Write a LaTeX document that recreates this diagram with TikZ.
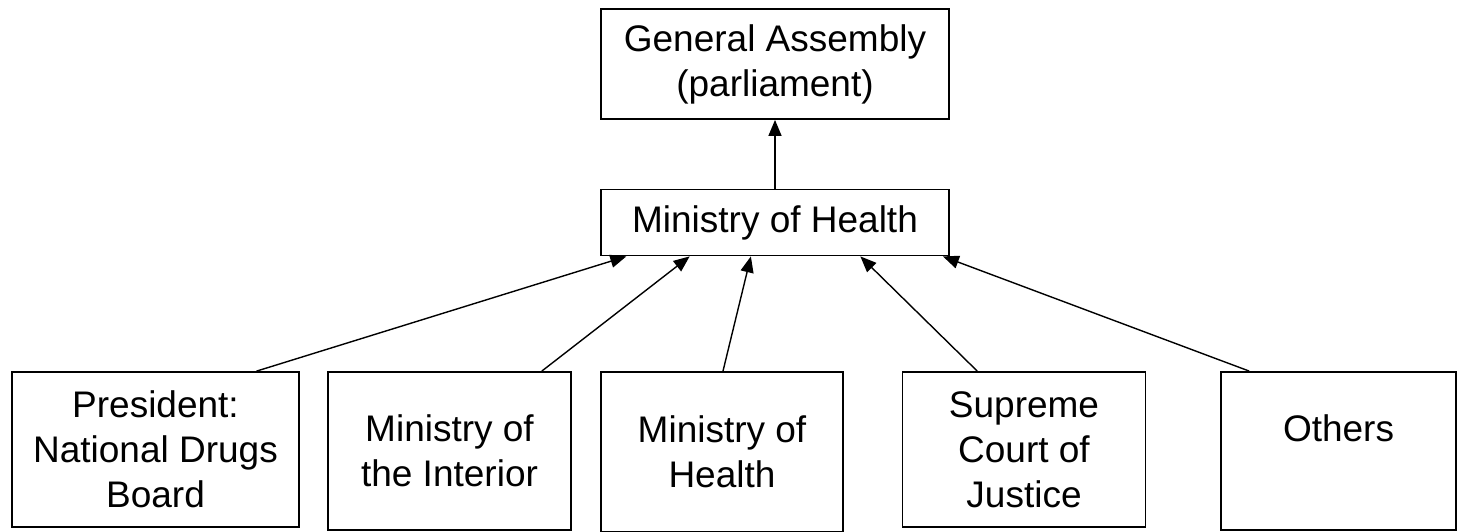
\documentclass[tikz,border=0pt]{standalone}
\usepackage{fontspec}
\setmainfont{Liberation Sans}
\usetikzlibrary{arrows.meta,calc}
\tikzset{
  box/.style={draw=black, line width=1.8pt, rectangle, inner sep=0pt, align=center,
    font=\fontsize{37}{45}\selectfont},
  arr/.style={line width=1.4pt, -{Triangle[length=16pt,width=13pt]}}
}
\begin{document}
\begin{tikzpicture}[x=1pt,y=-1pt]
\useasboundingbox (0,0) rectangle (1458,531);
\node[box, minimum width=348pt, minimum height=110pt] (ga) at (775,64) {General Assembly\\(parliament)};
\node[box, minimum width=348pt, minimum height=66pt] (moh) at (775,222.5) {Ministry of Health};
\node[box, minimum width=287pt, minimum height=155pt] (b1) at (155.5,449.5) {President:\\National Drugs\\Board};
\node[box, minimum width=243pt, minimum height=158pt] (b2) at (449.5,451) {Ministry of\\the Interior};
\node[box, minimum width=242pt, minimum height=160pt] (b3) at (722,452) {Ministry of\\Health};
\node[box, minimum width=243pt, minimum height=155pt] (b4) at (1024,449.5) {Supreme\\Court of\\Justice};
\node[box, minimum width=235pt, minimum height=158pt] (b5) at (1338.5,451) {Others\\\mbox{}};
\draw[arr] (moh.north) -- (ga.south);
\draw[arr] ($(b1.north west)!0.85!(b1.north east)$) -- ($(moh.south west)!0.075!(moh.south east)$);
\draw[arr] ($(b2.north west)!0.877!(b2.north east)$) -- ($(moh.south west)!0.256!(moh.south east)$);
\draw[arr] ($(b3.north west)!0.504!(b3.north east)$) -- ($(moh.south west)!0.431!(moh.south east)$);
\draw[arr] ($(b4.north west)!0.309!(b4.north east)$) -- ($(moh.south west)!0.744!(moh.south east)$);
\draw[arr] ($(b5.north west)!0.123!(b5.north east)$) -- ($(moh.south west)!0.98!(moh.south east)$);
\end{tikzpicture}
\end{document}
